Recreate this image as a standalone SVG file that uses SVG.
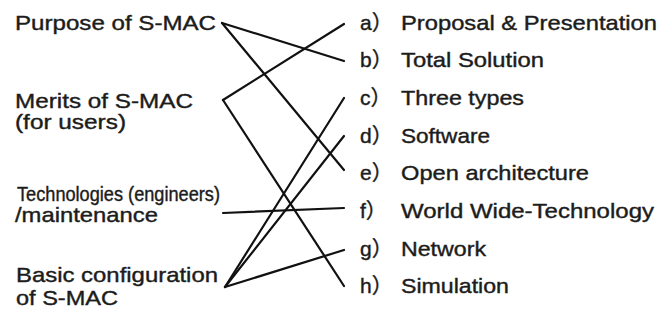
<svg xmlns="http://www.w3.org/2000/svg" width="662" height="321" viewBox="0 0 662 321">
  <style>
    text { font-family: "Liberation Sans", Arial, "Noto Sans CJK JP", sans-serif; font-size: 21px; fill: #1c1c1c; stroke: #1c1c1c; stroke-width: 0.4; }
    .key { font-family: "Liberation Sans", "Noto Sans CJK JP", sans-serif; }
    .link { stroke: #111; stroke-width: 2.2; fill: none; stroke-linecap: round; }
  </style>
  <rect width="662" height="321" fill="#ffffff"/>

  <!-- left column: topics -->
  <g id="purpose">
    <text x="15" y="30" textLength="201" lengthAdjust="spacingAndGlyphs">Purpose of S-MAC</text>
  </g>
  <g id="merits">
    <text x="15" y="108" textLength="178" lengthAdjust="spacingAndGlyphs">Merits of S-MAC</text>
    <text x="15" y="129" textLength="111" lengthAdjust="spacingAndGlyphs">(for users)</text>
  </g>
  <g id="technologies">
    <text x="17" y="201" textLength="203" lengthAdjust="spacingAndGlyphs">Technologies (engineers)</text>
    <text x="15" y="222" textLength="143" lengthAdjust="spacingAndGlyphs">/maintenance</text>
  </g>
  <g id="basic">
    <text x="16" y="282" textLength="202" lengthAdjust="spacingAndGlyphs">Basic configuration</text>
    <text x="16" y="305" textLength="102" lengthAdjust="spacingAndGlyphs">of S-MAC</text>
  </g>

  <!-- right column: answers -->
  <g id="opt-a">
    <text class="key" x="360" y="29.5">a）</text>
    <text x="401" y="29.5" textLength="256" lengthAdjust="spacingAndGlyphs">Proposal &amp; Presentation</text>
  </g>
  <g id="opt-b">
    <text class="key" x="360" y="67.2">b）</text>
    <text x="401" y="67.2" textLength="143" lengthAdjust="spacingAndGlyphs">Total Solution</text>
  </g>
  <g id="opt-c">
    <text class="key" x="360" y="104.9">c）</text>
    <text x="401" y="104.9" textLength="123" lengthAdjust="spacingAndGlyphs">Three types</text>
  </g>
  <g id="opt-d">
    <text class="key" x="360" y="142.6">d）</text>
    <text x="401" y="142.6" textLength="89" lengthAdjust="spacingAndGlyphs">Software</text>
  </g>
  <g id="opt-e">
    <text class="key" x="360" y="180.3">e）</text>
    <text x="401" y="180.3" textLength="188" lengthAdjust="spacingAndGlyphs">Open architecture</text>
  </g>
  <g id="opt-f">
    <text class="key" x="360" y="218">f）</text>
    <text x="401" y="218" textLength="253" lengthAdjust="spacingAndGlyphs">World Wide-Technology</text>
  </g>
  <g id="opt-g">
    <text class="key" x="360" y="255.7">g）</text>
    <text x="401" y="255.7" textLength="85" lengthAdjust="spacingAndGlyphs">Network</text>
  </g>
  <g id="opt-h">
    <text class="key" x="360" y="293.4">h）</text>
    <text x="401" y="293.4" textLength="108" lengthAdjust="spacingAndGlyphs">Simulation</text>
  </g>

  <!-- matching lines -->
  <g id="connectors">
    <line class="link" x1="222" y1="23" x2="344" y2="61"/>
    <line class="link" x1="222" y1="23" x2="344" y2="170"/>
    <line class="link" x1="223" y1="100" x2="344" y2="24"/>
    <line class="link" x1="223" y1="100" x2="344" y2="286"/>
    <line class="link" x1="223" y1="213" x2="344" y2="208"/>
    <line class="link" x1="225" y1="287" x2="344" y2="98"/>
    <line class="link" x1="225" y1="287" x2="344" y2="136"/>
    <line class="link" x1="225" y1="287" x2="344" y2="250"/>
  </g>
</svg>
